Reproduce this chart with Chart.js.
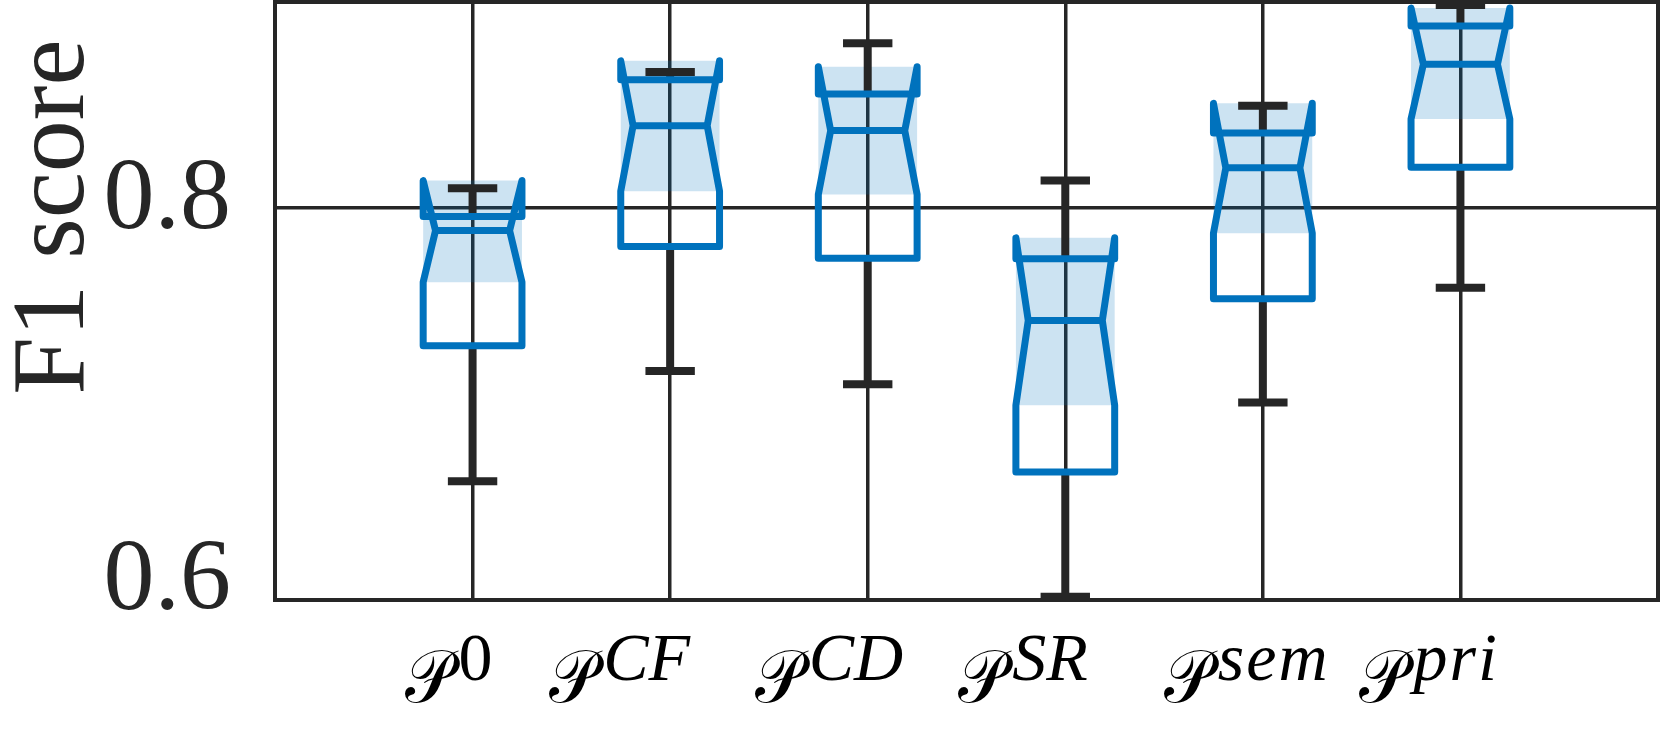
<!DOCTYPE html>
<html><head><meta charset="utf-8">
<script src="https://cdn.jsdelivr.net/npm/chart.js@4.4.1/dist/chart.umd.min.js"></script>
<style>html,body{margin:0;padding:0;background:#fff;} canvas{display:block;}</style>
</head><body>
<canvas id="c" width="1663" height="731"></canvas>
<script>
// ---- data ----
const positions = [1, 2, 3, 4, 5, 6];
const labelSup = ['0', 'CF', 'CD', 'SR', 'sem', 'pri'];
const lowerWhisker = [0.6606, 0.7168, 0.7100, 0.6017, 0.7007, 0.7593];
const q1 = [0.7297, 0.7803, 0.7743, 0.6653, 0.7537, 0.8207];
const notchLow = [0.7621, 0.8085, 0.8068, 0.6993, 0.7871, 0.8453];
const median = [0.7884, 0.8419, 0.8394, 0.7426, 0.8204, 0.8733];
const q3 = [0.7956, 0.8653, 0.8581, 0.7740, 0.8382, 0.8928];
const notchHigh = [0.8139, 0.8750, 0.8720, 0.7847, 0.8533, 0.9019];
const upperWhisker = [0.8100, 0.8693, 0.8840, 0.8139, 0.8521, 0.9035];
const yTicks = [0.6, 0.8];
const yTickText = ['0.6', '0.8'];
const yTitle = 'F1 score';

// ---- styles ----
const DARK = '#262626';
const BLUE = '#0072BD';
const LABEL_DX = [-68, -121, -113, -107, -99, -101];
const YLABEL_DY = [9, 20];

const boxPlugin = {
  id: 'notchbox',
  afterDatasetsDraw(chart) {
    const {ctx, chartArea: a, scales: {x, y}} = chart;
    const unit = x.getPixelForValue(1) - x.getPixelForValue(0);
    const w = unit * 0.25, wn = w * 0.75, cw = w * 0.5;
    ctx.save();
    ctx.beginPath(); ctx.rect(a.left, a.top - 4, a.right - a.left, a.bottom - a.top + 4); ctx.clip();
    positions.forEach((p, i) => {
      const c = x.getPixelForValue(p);
      const Y = v => y.getPixelForValue(v);
      // whiskers
      ctx.strokeStyle = DARK; ctx.lineWidth = 8; ctx.lineCap = 'butt';
      ctx.beginPath();
      ctx.moveTo(c, Y(q3[i])); ctx.lineTo(c, Y(upperWhisker[i]));
      ctx.moveTo(c, Y(q1[i])); ctx.lineTo(c, Y(lowerWhisker[i]));
      ctx.moveTo(c - cw, Y(upperWhisker[i])); ctx.lineTo(c + cw, Y(upperWhisker[i]));
      ctx.moveTo(c - cw, Y(lowerWhisker[i])); ctx.lineTo(c + cw, Y(lowerWhisker[i]));
      ctx.stroke();
      // notched box outline
      ctx.strokeStyle = BLUE; ctx.lineWidth = 7; ctx.lineJoin = 'round'; ctx.lineCap = 'round';
      ctx.beginPath();
      ctx.moveTo(c - w, Y(q1[i]));
      ctx.lineTo(c - w, Y(notchLow[i]));
      ctx.lineTo(c - wn, Y(median[i]));
      ctx.lineTo(c - w, Y(notchHigh[i]));
      ctx.lineTo(c - w, Y(q3[i]));
      ctx.lineTo(c + w, Y(q3[i]));
      ctx.lineTo(c + w, Y(notchHigh[i]));
      ctx.lineTo(c + wn, Y(median[i]));
      ctx.lineTo(c + w, Y(notchLow[i]));
      ctx.lineTo(c + w, Y(q1[i]));
      ctx.closePath();
      ctx.stroke();
      // median
      ctx.lineCap = 'butt';
      ctx.beginPath();
      ctx.moveTo(c - wn, Y(median[i])); ctx.lineTo(c + wn, Y(median[i]));
      ctx.stroke();
    });
    ctx.restore();
  },
  afterDraw(chart) {
    const {ctx, chartArea: a, scales: {x, y}} = chart;
    ctx.save();
    // frame
    ctx.strokeStyle = DARK; ctx.lineWidth = 4;
    ctx.strokeRect(a.left, a.top, a.right - a.left, a.bottom - a.top);
    // y tick labels
    ctx.fillStyle = DARK;
    ctx.font = '102px "Liberation Serif", "Times New Roman", serif';
    ctx.textAlign = 'right'; ctx.textBaseline = 'alphabetic';
    yTicks.forEach((v, i) => {
      ctx.fillText(yTickText[i], a.left - 44, y.getPixelForValue(v) + YLABEL_DY[i]);
    });
    // y title
    ctx.save();
    ctx.translate(83, 217);
    ctx.rotate(-Math.PI / 2);
    ctx.textAlign = 'center';
    ctx.font = '104px "Liberation Serif", "Times New Roman", serif';
    ctx.fillText(yTitle, 0, 0);
    ctx.restore();
    // x tick labels
    ctx.fillStyle = '#000';
    ctx.textAlign = 'left';
    const P = '\u{1D4AB}';
    const SX = 0.9;
    positions.forEach((p, i) => {
      const x0 = x.getPixelForValue(p) + LABEL_DX[i];
      ctx.save();
      ctx.translate(x0, 702);
      ctx.scale(SX, 1);
      ctx.font = '74px "DejaVu Serif", "DejaVu Sans", serif';
      ctx.fillText(P, 0, 0);
      ctx.restore();
      const s = labelSup[i];
      const style = /^[0-9]+$/.test(s) ? 'normal' : 'italic';
      ctx.font = style + ' 68px "Liberation Serif", "Times New Roman", serif';
      ctx.letterSpacing = (style === 'italic' && /[a-z]/.test(s)) ? '2px' : '0px';
      ctx.fillText(s, x0 + 54, 680);
      ctx.letterSpacing = '0px';
    });
    ctx.restore();
  }
};

new Chart(document.getElementById('c').getContext('2d'), {
  type: 'bar',
  data: {
    datasets: [{
      label: 'notch',
      data: positions.map((p, i) => ({x: p, y: [notchLow[i], notchHigh[i]]})),
      backgroundColor: 'rgba(0,114,189,0.2)',
      borderWidth: 0,
      barPercentage: 0.5,
      categoryPercentage: 1
    }]
  },
  options: {
    responsive: false,
    animation: false,
    devicePixelRatio: 1,
    layout: {padding: {left: 275, right: 5, top: 2, bottom: 131}},
    plugins: {legend: {display: false}, tooltip: {enabled: false}},
    scales: {
      x: {
        type: 'linear', min: 0, max: 7, offset: false,
        ticks: {display: false, stepSize: 1},
        grid: {color: DARK, lineWidth: 3.5, drawTicks: false, offset: false},
        border: {display: false}
      },
      y: {
        type: 'linear', min: 0.6, max: 0.905, beginAtZero: false,
        afterBuildTicks: s => { s.ticks = yTicks.map(v => ({value: v})); },
        ticks: {display: false},
        grid: {color: DARK, lineWidth: 3.5, drawTicks: false},
        border: {display: false}
      }
    }
  },
  plugins: [boxPlugin]
});
</script></body></html>
